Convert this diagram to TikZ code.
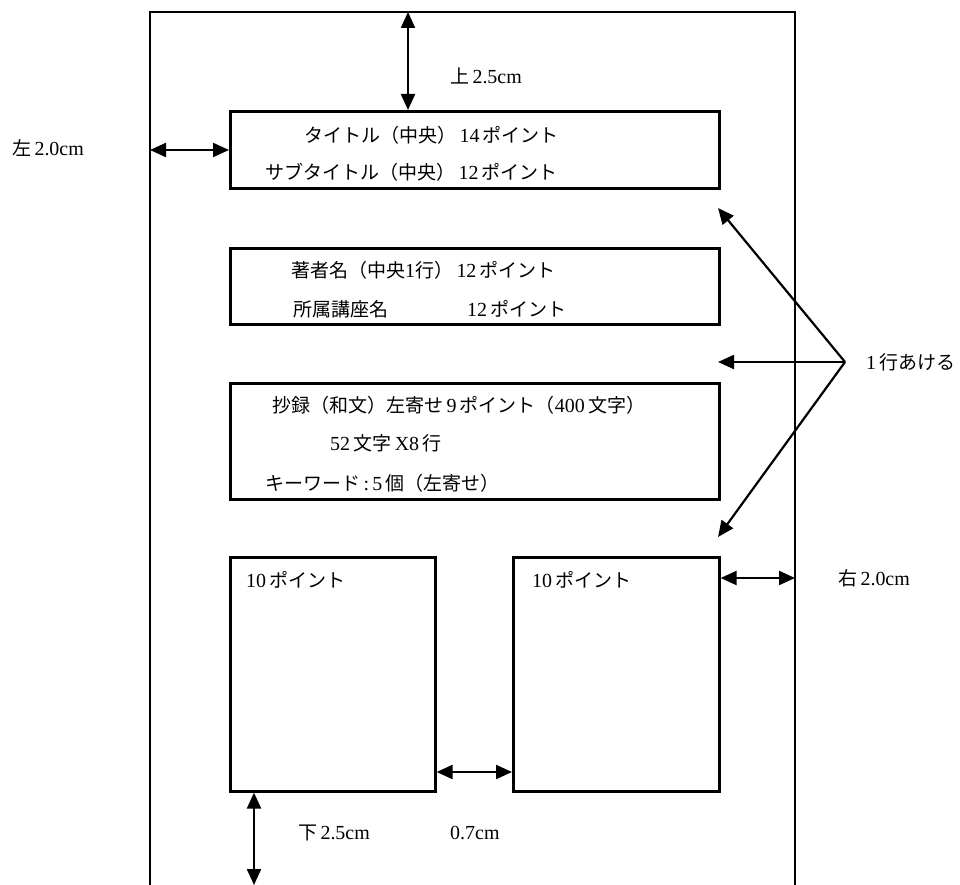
\documentclass[tikz,border=0pt]{standalone}
\usepackage{fontspec}
\setmainfont[Scale=1.05]{Liberation Serif}
\newfontfamily\jpfont{Noto Sans CJK JP}
\usetikzlibrary{arrows.meta}
\newcommand\J[1]{{\jpfont #1}}
\begin{document}
\begin{tikzpicture}[x=1pt,y=-1pt,
  frame/.style={line width=2.6pt},
  box/.style={draw, line width=2.6pt, inner sep=0pt, anchor=north west},
  dim/.style={line width=2.2pt, {Triangle[length=16pt,width=14pt]}-{Triangle[length=16pt,width=14pt]}},
  ptr/.style={line width=2.2pt, -{Triangle[length=16pt,width=14pt]}},
  txt/.style={anchor=west, inner sep=0pt, font=\fontsize{19}{23}\selectfont}]
\useasboundingbox (0,0) rectangle (960,885);
\fill[white] (0,0) rectangle (960,885);
% page frame
\draw[frame] (150,885) -- (150,12) -- (795,12) -- (795,885);
% boxes
\node[box, minimum width=489pt, minimum height=77pt] (title) at (229,110) {};
\node[box, minimum width=489pt, minimum height=76pt] (author) at (229,247) {};
\node[box, minimum width=489pt, minimum height=116pt] (abs) at (229,382) {};
\node[box, minimum width=205pt, minimum height=234pt] (colL) at (229,556) {};
\node[box, minimum width=206pt, minimum height=234pt] (colR) at (512,556) {};
% reference points
\coordinate (ptop) at (408,12);
\coordinate (pleft) at (150,150);
\coordinate (pright) at (795,578);
\coordinate (pbot) at (254,885);
\coordinate (gapy) at (470,772);
\coordinate (apex) at (845,362);
\coordinate (t1) at (718,208);
\coordinate (t2) at (718,362);
\coordinate (t3) at (718,537);
% dimension arrows
\draw[dim] (ptop) -- (ptop |- title.north);
\draw[dim] (pleft) -- (pleft -| title.west);
\draw[dim] (colR.east |- pright) -- (pright);
\draw[dim] (colL.east |- gapy) -- (colR.west |- gapy);
\draw[dim] (pbot |- colL.south) -- (pbot);
\draw[ptr] (apex) -- (t1);
\draw[ptr] (apex) -- (t2);
\draw[ptr] (apex) -- (t3);
% labels
\node[txt] (lt) at (450,76) {\J{上}\,2.5cm};
\node[txt] (ll) at (12,148) {\J{左}\,2.0cm};
\node[txt] (lr) at (838,578) {\J{右}\,2.0cm};
\node[txt] (lb) at (298,833) {\J{下}\,2.5cm};
\node[txt] (lg) at (450,833) {0.7cm};
\node[txt] (lline) at (866,362) {1\,\J{行あける}};
% box texts
\node[txt] (s1) at (304,135) {\J{タイトル（中央）}\,14\,\J{ポイント}};
\node[txt] (s2) at (265,172) {\J{サブタイトル（中央）}\,12\,\J{ポイント}};
\node[txt] (s3) at (291,270) {\J{著者名（中央}1\J{行）}\,12\,\J{ポイント}};
\node[txt] (s4) at (293,309) {\J{所属講座名}};
\node[txt] (s5) at (467,309) {12\,\J{ポイント}};
\node[txt] (s6) at (272,405) {\J{抄録（和文）左寄せ}\,9\,\J{ポイント（}400\,\J{文字）}};
\node[txt] (s7) at (330,443) {52\,\J{文字}\,X8\,\J{行}};
\node[txt] (s8) at (265,483) {\J{キーワード}\,:\,5\,\J{個（左寄せ）}};
\node[txt] (s9) at (246,580) {10\,\J{ポイント}};
\node[txt] (s10) at (532,580) {10\,\J{ポイント}};
\end{tikzpicture}
\end{document}
